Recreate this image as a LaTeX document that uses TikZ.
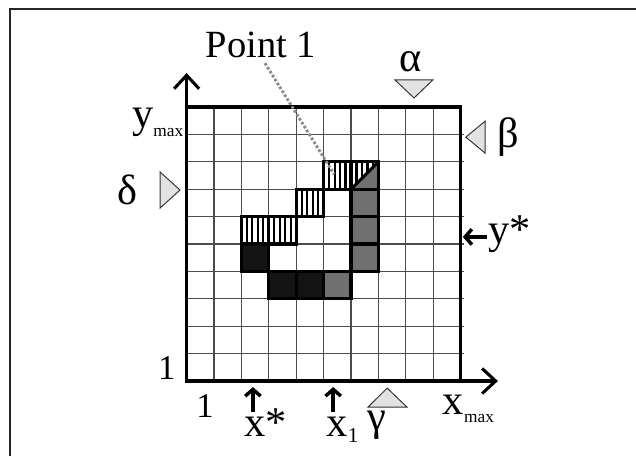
\documentclass[tikz,border=0pt]{standalone}
\usepackage{fontspec}
\setmainfont{Liberation Serif}
\usetikzlibrary{arrows.meta,positioning,calc}
\definecolor{cellgrey}{HTML}{707070}
\definecolor{cellblack}{HTML}{141414}
\definecolor{marker}{HTML}{E2E2E2}
\definecolor{gridline}{HTML}{4C4C4C}
\newcommand\lowsub[2][5pt]{\raisebox{-#1}{\fontsize{9}{9}\selectfont #2}}
\tikzset{
  lbl/.style={font=\fontsize{22}{24}\selectfont, inner sep=0pt},
  num/.style={font=\fontsize{18}{20}\selectfont, inner sep=0pt},
  gridln/.style={draw=gridline, line width=0.6pt},
  edge/.style={line width=1.6pt},
  axis/.style={line width=1.6pt, -{Straight Barb[length=7pt,width=13pt]}},
  tick/.style={line width=1.8pt, -{Straight Barb[length=3.5pt,width=8pt]}},
  tri/.style={draw=black!80, fill=marker, line width=0.5pt},
  outl/.style={draw, line width=1.6pt},
  stripe/.style={line width=1.1pt},
  ptr/.style={draw=black!45, line width=1.5pt, dash pattern=on 1.4pt off 1pt}
}

\begin{document}
\begin{tikzpicture}[x=0.5cm,y=0.5cm]
\useasboundingbox (-6.81,-2.74) rectangle (16.40,13.905);
\draw[line width=1pt, black!85] (-6.45,-2.74) -- (-6.45,13.58) -- (16.40,13.58);

% grid and filled cells
\draw[gridln, step=0.5cm] (0,0) grid (10,10);
\foreach \gl in {1,2,3,4,5,6,7,8,9} \draw[gridln] (10,\gl) -- (10.12,\gl);
\foreach \cx/\cy in {2/4,3/3,4/3} \fill[cellblack] (\cx,\cy) rectangle ++(1,1);
\foreach \cx/\cy in {5/3,6/6,6/5,6/4} \fill[cellgrey] (\cx,\cy) rectangle ++(1,1);
\foreach \cx/\cy in {5/7,4/6,2/5,3/5} {
  \fill[white] (\cx,\cy) rectangle ++(1,1);
  \foreach \sx in {0.2,0.4,0.6,0.8} \draw[stripe] (\cx+\sx,\cy) -- (\cx+\sx,\cy+1);
}
\fill[white] (6,7) -- (6,8) -- (7,8) -- cycle;
\fill[cellgrey] (6,7) -- (7,7) -- (7,8) -- cycle;
\foreach \sx in {0.2,0.4,0.6,0.8} \draw[stripe] (6+\sx,7+\sx) -- (6+\sx,8);
\draw[line width=1.6pt] (6,7) -- (7,8);
\foreach \cx/\cy in {2/4,3/3,4/3,5/3,6/6,6/5,6/4,6/7,5/7,4/6,2/5,3/5}
  \draw[outl] (\cx,\cy) rectangle ++(1,1);

% axes
\coordinate (o) at (0,0);
\coordinate (xend) at (11.36,0);
\coordinate (yend) at (0,11.24);
\draw[edge] (0,10) -- (10,10) -- (10,0);
\draw[axis] ($(o)+(-0.06,0)$) -- (xend);
\draw[axis] ($(o)+(0,-0.06)$) -- (yend);

% markers
\draw[tri] (7.60,10.99) -- (8.99,10.99) -- (8.30,10.33) -- cycle;
\draw[tri] (10.89,9.48) -- (10.89,8.32) -- (10.19,8.9) -- cycle;
\draw[tri] (-0.97,7.63) -- (-0.97,6.31) -- (-0.24,6.97) -- cycle;
\draw[tri] (6.62,-0.95) -- (8.04,-0.95) -- (7.32,-0.26) -- cycle;
\node[lbl] (alpha) at (8.19,11.64) {α};
\node[lbl] (beta) at (11.73,8.9) {β};
\node[lbl] (delta) at (-2.14,6.97) {δ};
\node[lbl, anchor=base] (gamma) at (6.94,-1.79) {γ};

% labels on the axes
\node[lbl, anchor=base west] (ymax) at (-2.0,9.27) {y\lowsub{max}};
\node[lbl, anchor=base west] (xmax) at (9.34,-1.24) {x\lowsub[4pt]{max}};
\node[num] (one y) at (-0.72,0.47) {1};
\node[num] (one x) at (0.67,-0.91) {1};
\node[lbl, anchor=base west] (ystar) at (11.0,5.02) {y*};
\node[lbl, anchor=base west] (xstar) at (2.1,-2.04) {x*};
\node[lbl, anchor=base west] (xone) at (5.1,-2.04) {x\raisebox{-3pt}{\fontsize{11}{11}\selectfont 1}};

% pointers
\coordinate (ystail) at (10.95,5.26);
\coordinate (ystip) at (10.08,5.26);
\coordinate (xstail) at (2.42,-1.13);
\coordinate (xstip) at (2.42,-0.22);
\coordinate (xonetail) at (5.35,-1.13);
\coordinate (xonetip) at (5.35,-0.22);
\draw[tick] (ystail) -- (ystip);
\draw[tick] (xstail) -- (xstip);
\draw[tick] (xonetail) -- (xonetip);

\node[font=\fontsize{20}{22}\selectfont, inner sep=0pt] (pt) at (2.71,12.26) {Point 1};
\coordinate (ptfoot) at (2.86,11.6);
\coordinate (p1) at (5.38,7.55);
\draw[ptr] (ptfoot) -- (p1);
\end{tikzpicture}
\end{document}
